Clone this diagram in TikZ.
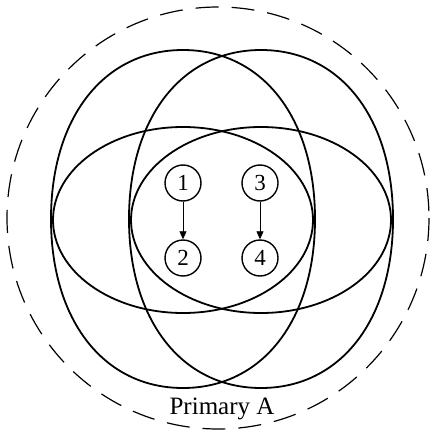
\documentclass[tikz,border=0pt]{standalone}
\usepackage{fontspec}
\setmainfont{Liberation Serif}
\usetikzlibrary{arrows.meta}
\begin{document}
\begin{tikzpicture}[x=1pt,y=-1pt,
  petal/.style={draw=black,line width=1.8pt},
  numnode/.style={draw=black,circle,line width=1.4pt,minimum size=36pt,inner sep=0pt,font=\fontsize{23}{23}\selectfont},
  link/.style={line width=0.8pt,-{Triangle[length=8pt,width=7pt]}},
  labeltext/.style={font=\fontsize{25}{25}\selectfont}]
\useasboundingbox (0,0) rectangle (433,433);
\draw[line width=1.2pt,dash pattern=on 23pt off 13pt] (218,218) circle[radius=211];
% tall rounded shapes
\draw[petal,shift={(183,219)}] (132,0) .. controls (132,101.4) and (79.2,169) .. (0,169)
  .. controls (-79.2,169) and (-132,101.4) .. (-132,0)
  .. controls (-132,-101.4) and (-79.2,-169) .. (0,-169)
  .. controls (79.2,-169) and (132,-101.4) .. (132,0) -- cycle;
\draw[petal,shift={(261,219)}] (132,0) .. controls (132,101.4) and (79.2,169) .. (0,169)
  .. controls (-79.2,169) and (-132,101.4) .. (-132,0)
  .. controls (-132,-101.4) and (-79.2,-169) .. (0,-169)
  .. controls (79.2,-169) and (132,-101.4) .. (132,0) -- cycle;
% wide shapes
\draw[petal] (183,220) ellipse[x radius=130,y radius=93];
\draw[petal] (261,220) ellipse[x radius=130,y radius=93];
\node[numnode] (n1) at (183,183) {1};
\node[numnode] (n2) at (183,258) {2};
\node[numnode] (n3) at (260,183) {3};
\node[numnode] (n4) at (260,258) {4};
\draw[link] (n1) -- (n2);
\draw[link] (n3) -- (n4);
\node[labeltext] (lbl) at (222,409) {Primary A};
\end{tikzpicture}
\end{document}
